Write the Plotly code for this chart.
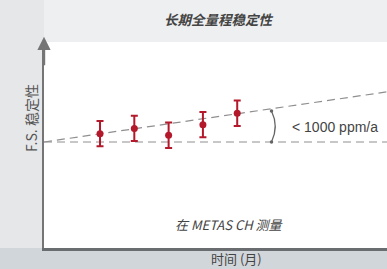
import plotly.graph_objects as go

# ---- data ----
months = [6, 12, 18, 24, 30]
deviation_ppm = [270, 440, 220, 560, 930]
error_ppm = [410, 410, 410, 410, 410]

baseline_x = [-3.8, 56.2]
baseline_y = [0, 0]
trend_x = [-3.8, 56.2]
trend_y = [0, 1620]

bracket_month = 36
bracket_low = 0
bracket_high = 1000

title_text = "长期全量程稳定性"
y_label = "F.S. 稳定性"
x_label = "时间 (月)"
note_text = "在 METAS CH 测量"
drift_text = "< 1000 ppm/a"

FONT = "Liberation Sans, Arial, Noto Sans CJK SC, sans-serif"
CJK = "Noto Sans CJK SC, Liberation Sans, sans-serif"
RED = "#b3182b"

fig = go.Figure()

fig.add_trace(go.Scatter(x=baseline_x, y=baseline_y, mode="lines",
                         line=dict(color="#8f8f8f", width=1.2, dash="8px,5px"),
                         hoverinfo="skip", showlegend=False))
fig.add_trace(go.Scatter(x=trend_x, y=trend_y, mode="lines",
                         line=dict(color="#8f8f8f", width=1.2, dash="8px,5px"),
                         hoverinfo="skip", showlegend=False))

fig.add_trace(go.Scatter(
    x=months, y=deviation_ppm, mode="markers",
    marker=dict(color=RED, size=7),
    error_y=dict(type="data", array=error_ppm, color=RED, thickness=2, width=3.5),
    showlegend=False))

# bracket
fig.add_shape(type="path", xref="x", yref="y",
              path=f"M {bracket_month},{bracket_high} Q {bracket_month + 1.3},{(bracket_high + bracket_low) / 2} {bracket_month},{bracket_low}",
              line=dict(color="#666666", width=1.3))
fig.add_trace(go.Scatter(x=[bracket_month, bracket_month], y=[bracket_low, bracket_high],
                         mode="markers", marker=dict(color="#666666", size=3.5),
                         hoverinfo="skip", showlegend=False))

# darker band below the x axis
fig.add_shape(type="rect", xref="paper", yref="paper", x0=-0.2, x1=1.05, y0=-0.2, y1=0,
              fillcolor="#d1d6da", line=dict(width=0), layer="below")
# lighter band at top
fig.add_shape(type="rect", xref="paper", yref="paper", x0=0.0, x1=1.05, y0=1.0, y1=1.25,
              fillcolor="#eeeff0", line=dict(width=0), layer="below")

# y-axis arrow
fig.add_annotation(x=0, y=1.025, xref="paper", yref="paper", ax=0, ay=30,
                   showarrow=True, arrowhead=2, arrowsize=1.1, arrowwidth=2.4,
                   arrowcolor="#757575", text="")

fig.add_annotation(x=39.3, y=480, xref="x", yref="y", text=drift_text, showarrow=False,
                   xanchor="left", yanchor="middle", font=dict(family=FONT, size=14, color="#444444"))
common = dict(xref="paper", yref="paper", showarrow=False, xanchor="center", yanchor="middle")
fig.add_annotation(x=0.51, y=1.11, text=f"<b><i>{title_text}</i></b>",
                   font=dict(family=CJK, size=13.5, color="#444444"), **common)
fig.add_annotation(x=-0.038, y=0.631, text=y_label, textangle=-90,
                   font=dict(family=CJK, size=14, color="#555555"), **common)
fig.add_annotation(x=0.542, y=0.1165, text=f"<i>{note_text}</i>",
                   font=dict(family=CJK, size=13, color="#444444"), **common)
fig.add_annotation(x=0.562, y=-0.052, text=x_label,
                   font=dict(family=CJK, size=13, color="#444444"), **common)

fig.update_layout(
    width=387, height=269,
    margin=dict(l=44, r=0, t=42, b=21),
    paper_bgcolor="#e5e7e9", plot_bgcolor="#ffffff",
    xaxis=dict(range=[-3.8, 56.2], showgrid=False, zeroline=False, showticklabels=False,
               ticks="", showline=True, linecolor="#6a6d70", linewidth=2.5),
    yaxis=dict(range=[-3424, 3230], showgrid=False, zeroline=False, showticklabels=False,
               ticks="", showline=True, linecolor="#757575", linewidth=2.4),
)

fig.write_html("out.html", config={"displayModeBar": False},
               post_script="document.body.style.margin='0';")
